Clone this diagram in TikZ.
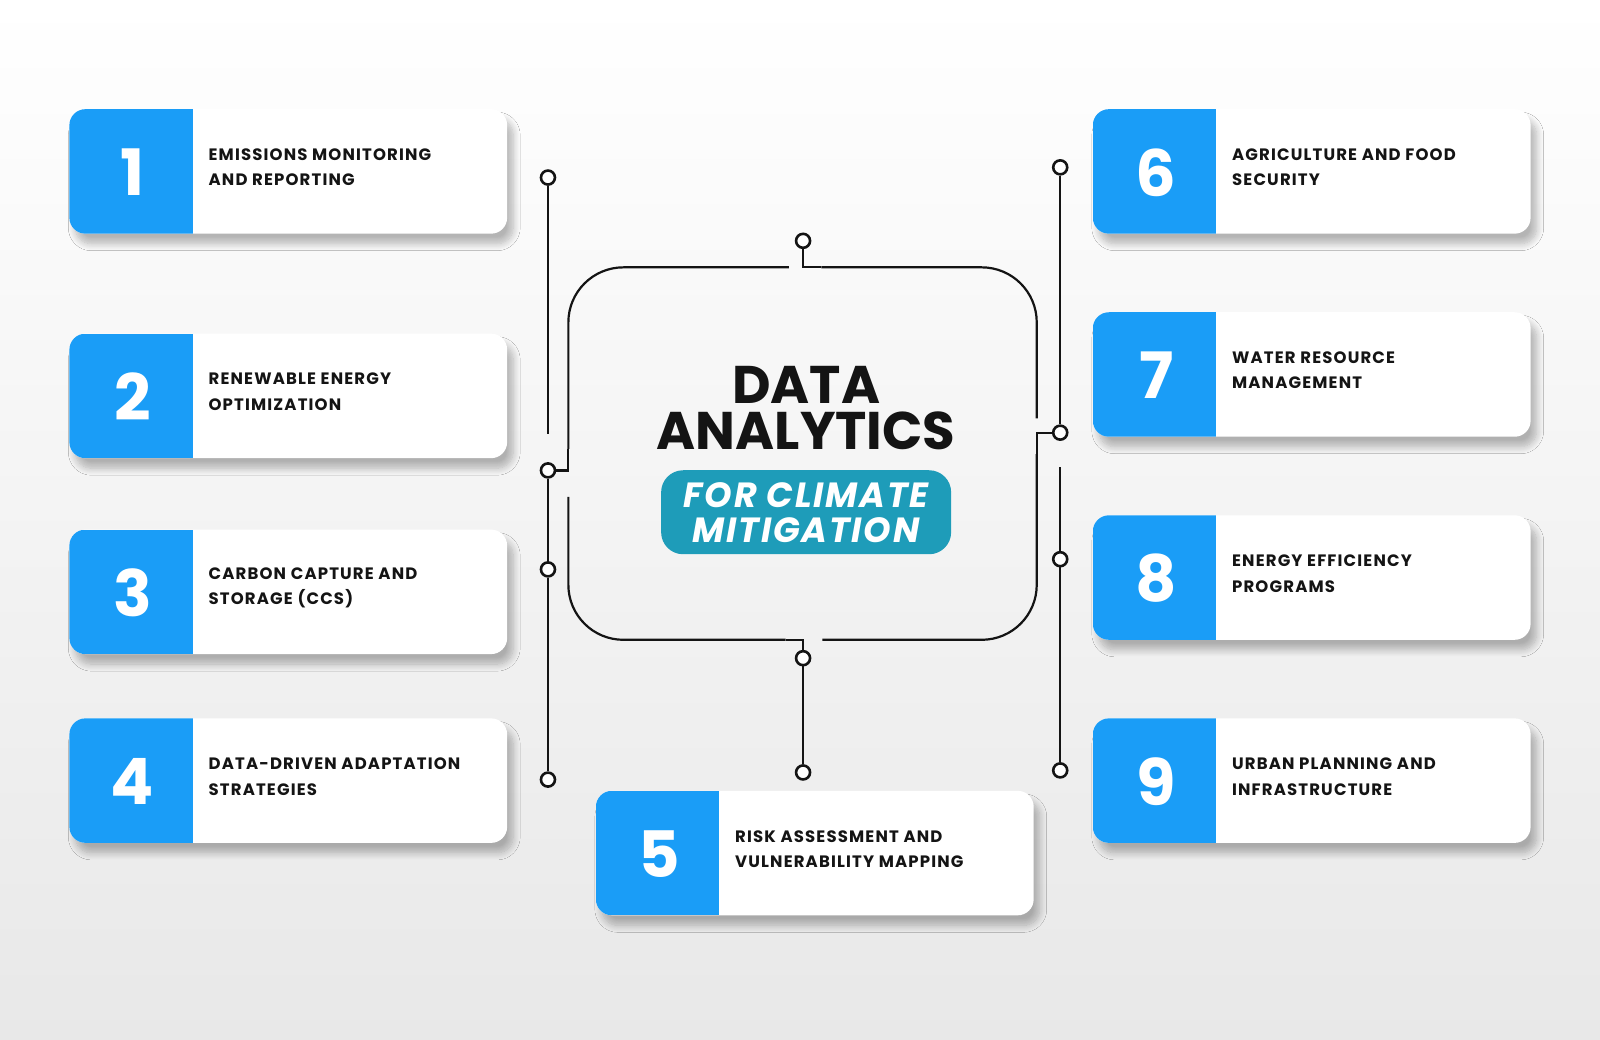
\documentclass[tikz,border=0pt]{standalone}
\usepackage{fontspec}
\setmainfont{Poppins}
\usetikzlibrary{shadows.blur}
\definecolor{cardblue}{HTML}{1A9DF7}
\definecolor{blobteal}{HTML}{1E9CB9}
\definecolor{inkblack}{HTML}{141414}
\tikzset{
  pin/.style={circle, draw=inkblack, fill=white, line width=2.6pt, inner sep=0pt, minimum size=14pt},
  wire/.style={draw=inkblack, line width=2.2pt},
  roundwire/.style={wire, rounded corners=55pt},
  numtext/.style={text=white, font=\fontsize{64}{64}\selectfont\bfseries},
  cardtext/.style={text=inkblack, align=left, anchor=west, font=\fontsize{16.5}{25.5}\selectfont\bfseries\addfontfeatures{LetterSpace=7}},
}
% card: name, x, y (top left), number, text
\newcommand\card[5]{%
  \begin{scope}[shift={(#2,#3)}]
    \fill[white, rounded corners=16pt, blur shadow={shadow xshift=6pt, shadow yshift=-10pt, shadow opacity=28, shadow blur radius=7pt, shadow blur steps=10}]
      (0,0) rectangle (429,122);
    \begin{scope}
      \clip[rounded corners=16pt] (0,0) rectangle (429,122);
      \fill[cardblue] (0,0) rectangle (121,122);
    \end{scope}
    \node[numtext] (#1n) at (62,62) {#4};
    \node[cardtext] (#1) at (133,57) {#5};
  \end{scope}}
\begin{document}
\begin{tikzpicture}[x=1.0204pt, y=-1.0204pt]
  \shade[top color=white, bottom color=black!9] (0,0) rectangle (1568,1019);
  \useasboundingbox (0,0) rectangle (1568,1019);

  % cards
  \card{c1}{68}{107}{1}{EMISSIONS MONITORING\\AND REPORTING}
  \card{c2}{68}{327}{2}{RENEWABLE ENERGY\\OPTIMIZATION}
  \card{c3}{68}{519}{3}{CARBON CAPTURE AND\\STORAGE (CCS)}
  \card{c4}{68}{704}{4}{DATA-DRIVEN ADAPTATION\\STRATEGIES}
  \card{c5}{584}{775}{5}{RISK ASSESSMENT AND\\VULNERABILITY MAPPING}
  \card{c6}{1071}{107}{6}{AGRICULTURE AND FOOD\\SECURITY}
  \card{c7}{1071}{306}{7}{WATER RESOURCE\\MANAGEMENT}
  \card{c8}{1071}{505}{8}{ENERGY EFFICIENCY\\PROGRAMS}
  \card{c9}{1071}{704}{9}{URBAN PLANNING AND\\INFRASTRUCTURE}

  % frame round the title
  \draw[roundwire] (773,262) -- (557,262) -- (557,440);
  \draw[roundwire] (557,487) -- (557,627) -- (770,627);
  \draw[roundwire] (806,627) -- (1016,627) -- (1016,445);
  \draw[roundwire] (1016,410) -- (1016,262) -- (805,262);

  % pins
  \node[pin] (l1) at (537,174) {};
  \node[pin] (l2) at (537,461) {};
  \node[pin] (l3) at (537,558) {};
  \node[pin] (l4) at (537,764) {};
  \node[pin] (top) at (787,236) {};
  \node[pin] (b1) at (787,645) {};
  \node[pin] (b2) at (787,757) {};
  \node[pin] (r1) at (1039,164) {};
  \node[pin] (r2) at (1039,424) {};
  \node[pin] (r3) at (1039,548) {};
  \node[pin] (r4) at (1039,755) {};
  \coordinate (lgap) at (537,425);
  \coordinate (rgap) at (1039,458);

  \draw[wire] (557,440) -- (557,461) -- (l2);
  \draw[wire] (770,627) -- (787,627) -- (b1);
  \draw[wire] (1016,445) -- (1016,424) -- (r2);
  \draw[wire] (805,262) -- (787,262) -- (top);
  \draw[wire] (l1) -- (lgap);
  \draw[wire] (l2) -- (l3) -- (l4);
  \draw[wire] (r1) -- (r2);
  \draw[wire] (rgap) -- (r3) -- (r4);
  \draw[wire] (b1) -- (b2);

  % title
  \node[text=inkblack, inner sep=0pt, font=\fontsize{53}{46}\selectfont\bfseries, align=center] (title) at (790,400) {DATA\\ANALYTICS};
  \node[fill=blobteal, rounded corners=22pt, minimum width=290pt, minimum height=84pt] (blob) at (790,502) {};
  \node[text=white, inner sep=0pt, font=\fontsize{35}{35}\selectfont\bfseries\itshape\addfontfeatures{LetterSpace=5}, align=center] (sub) at (blob) {FOR CLIMATE\\MITIGATION};
\end{tikzpicture}
\end{document}
